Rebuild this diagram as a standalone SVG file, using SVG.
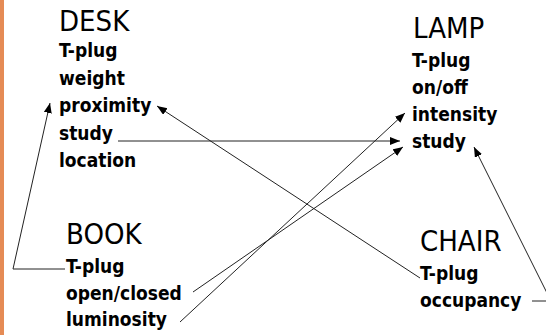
<svg xmlns="http://www.w3.org/2000/svg" width="546" height="335" viewBox="0 0 546 335">
<defs>
<style>
.t{font-family:"DejaVu Sans Condensed","DejaVu Sans",sans-serif;font-size:29px;fill:#000}
.i{font-family:"DejaVu Sans Condensed","DejaVu Sans",sans-serif;font-size:19px;font-weight:bold;fill:#000}
.c{fill:none;stroke:#222;stroke-width:1}
</style>
<marker id="ah" markerUnits="userSpaceOnUse" markerWidth="11" markerHeight="9" refX="10" refY="4" orient="auto">
<path d="M0,0 L10,4 L0,8 z" fill="#000"/>
</marker>
</defs>
<rect x="0" y="0" width="546" height="335" fill="#fff"/>
<rect x="0" y="0" width="4" height="335" fill="#E58B55"/>
<g id="desk">
<text class="t" x="59" y="31">DESK</text>
<text class="i" x="59" y="57">T-plug</text>
<text class="i" x="59" y="85">weight</text>
<text class="i" x="59" y="112">proximity</text>
<text class="i" x="59" y="140">study</text>
<text class="i" x="59" y="167">location</text>
</g>
<g id="lamp">
<text class="t" x="413" y="38">LAMP</text>
<text class="i" x="412" y="67">T-plug</text>
<text class="i" x="412" y="94">on/off</text>
<text class="i" x="412" y="121">intensity</text>
<text class="i" x="412" y="148">study</text>
</g>
<g id="book">
<text class="t" x="66" y="244">BOOK</text>
<text class="i" x="66" y="273">T-plug</text>
<text class="i" x="66" y="300">open/closed</text>
<text class="i" x="66" y="326">luminosity</text>
</g>
<g id="chair">
<text class="t" x="420" y="251">CHAIR</text>
<text class="i" x="420" y="280">T-plug</text>
<text class="i" x="420" y="307">occupancy</text>
</g>
<g id="connectors">
<polyline class="c" points="118,141 400,141" marker-end="url(#ah)"/>
<polyline class="c" points="193,292 403,147" marker-end="url(#ah)"/>
<polyline class="c" points="180,322 405,113" marker-end="url(#ah)"/>
<polyline class="c" points="420,278 157,106" marker-end="url(#ah)"/>
<polyline class="c" points="65,269 13,269 50,103" marker-end="url(#ah)"/>
<polyline class="c" points="532,301 551,301 474,147" marker-end="url(#ah)"/>
</g>
</svg>
